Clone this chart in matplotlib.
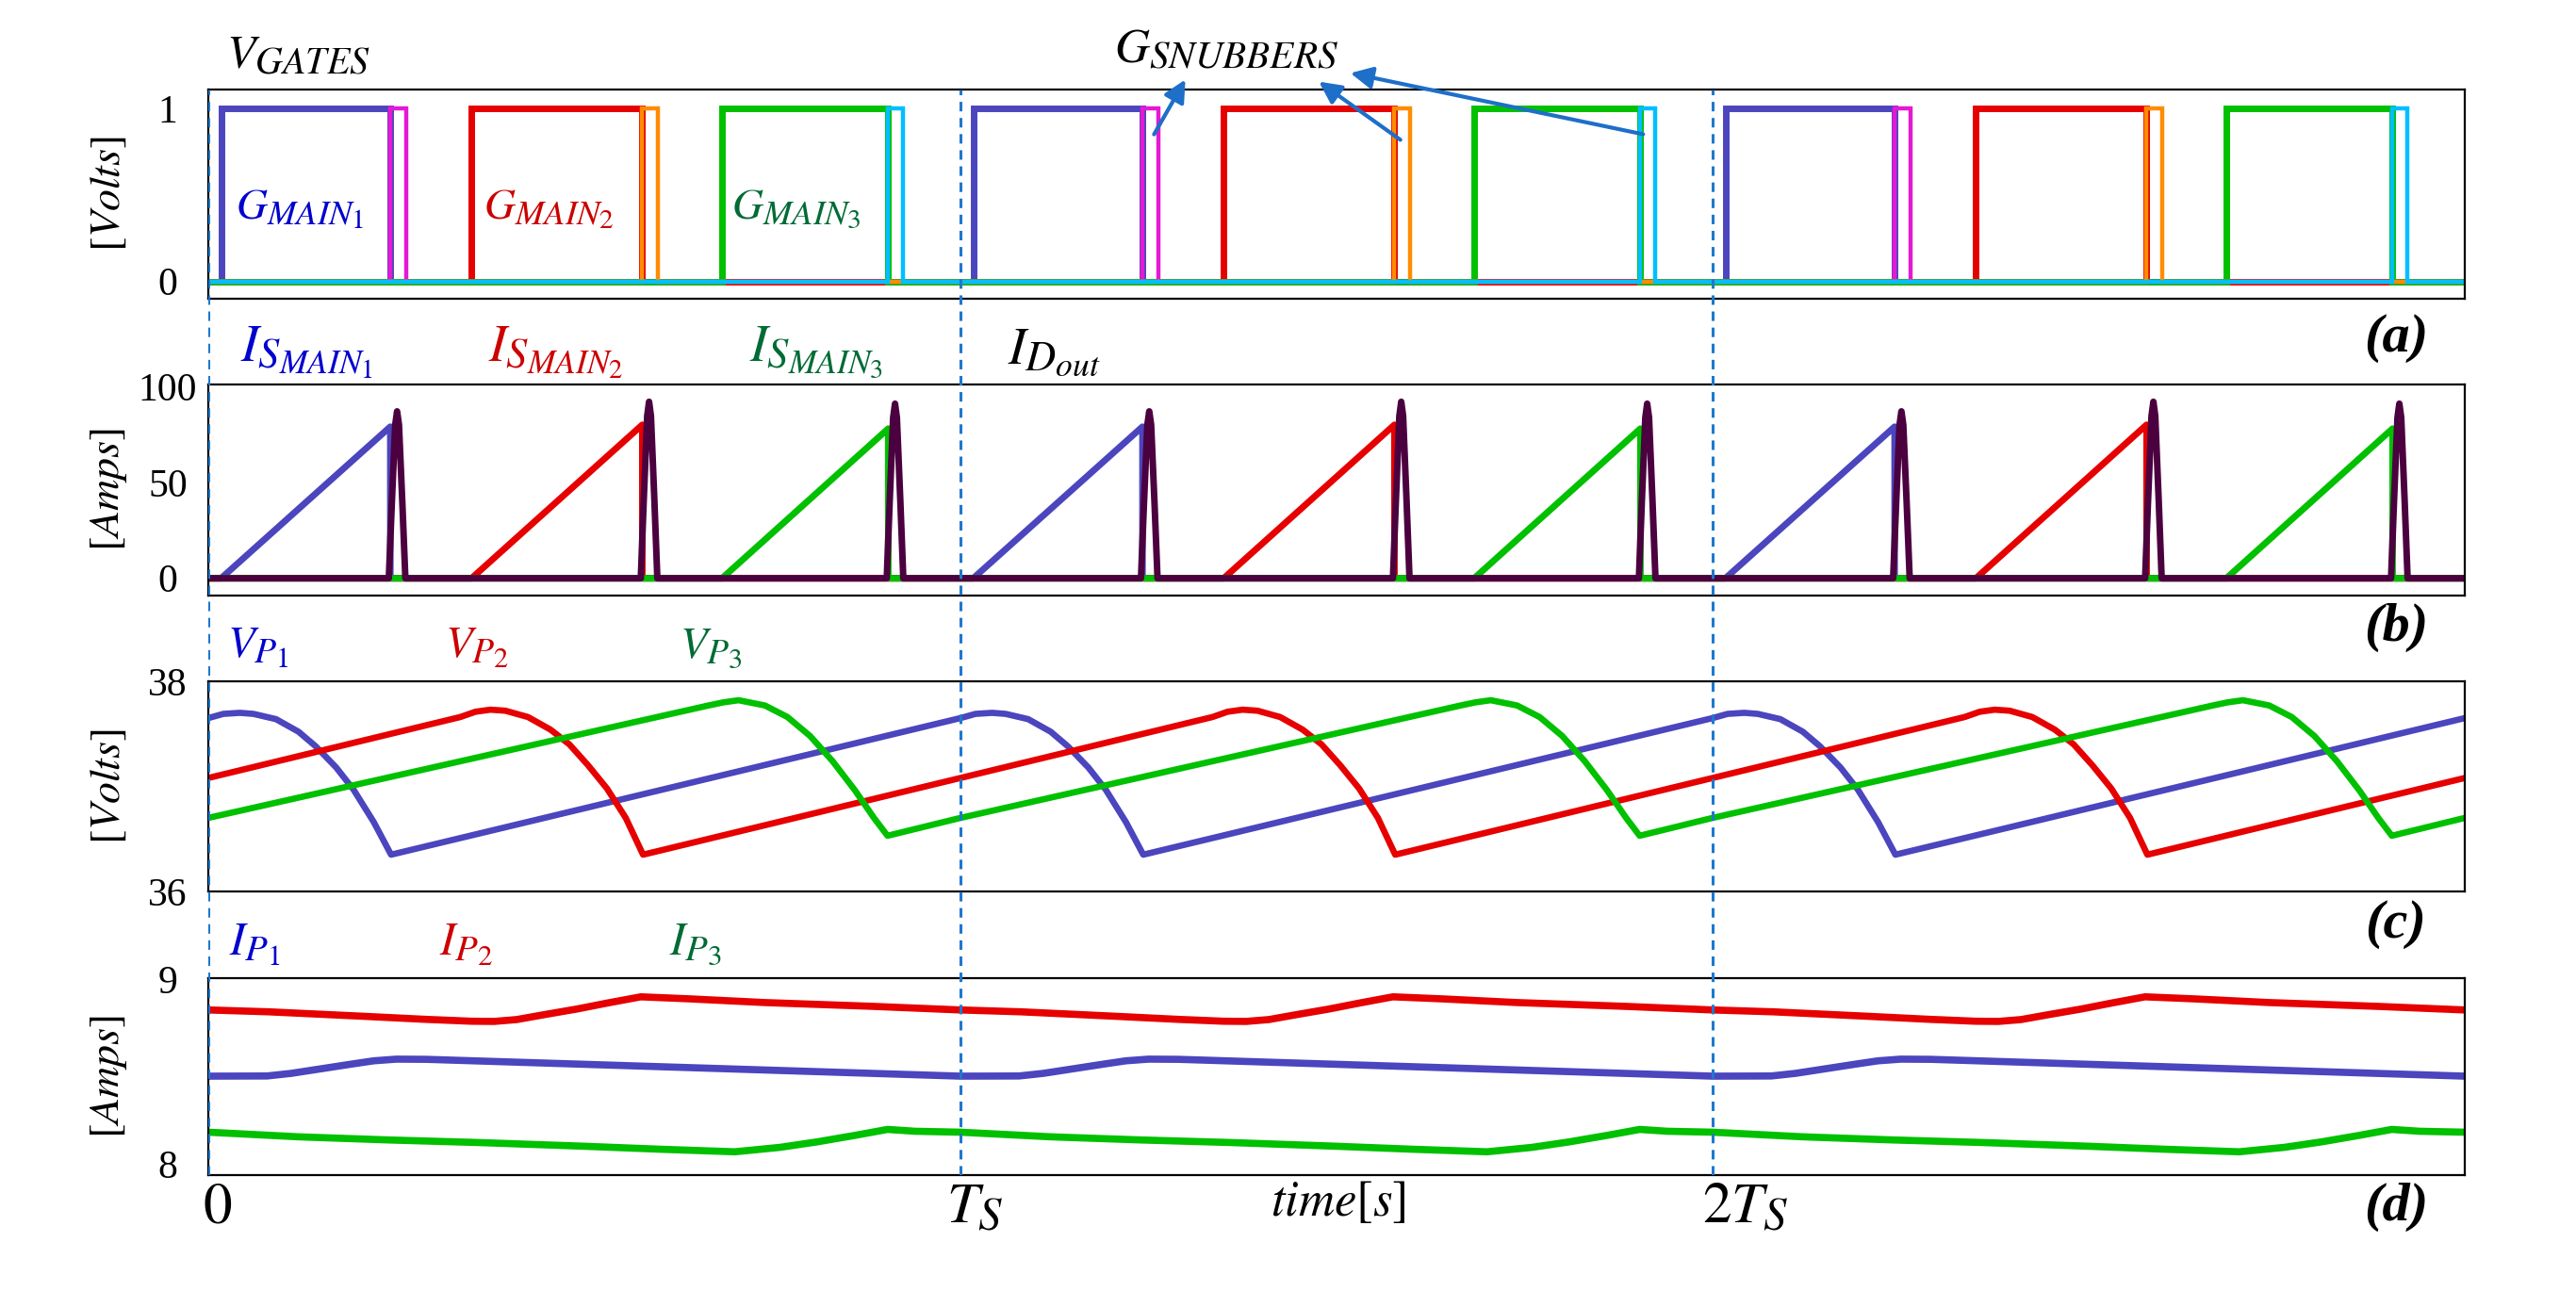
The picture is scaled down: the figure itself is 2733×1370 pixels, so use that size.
import numpy as np
import matplotlib
matplotlib.use("Agg")
import matplotlib.pyplot as plt
import matplotlib._mathtext as mathtext_internal
from matplotlib.transforms import ScaledTranslation

plt.rcParams['mathtext.fontset'] = 'stix'
plt.rcParams['font.family'] = 'Liberation Serif'
# Cambria-like subscripts are bigger than the default 0.7 step
mathtext_internal.SHRINK_FACTOR = 0.8

W, H = 2733, 1370

# ---- data (time in units of Ts) ----
n_periods = 3
main_on = [0.017, 0.350, 0.683]      # G_MAIN rising edges
main_off = [0.242, 0.577, 0.904]     # G_MAIN falling edges = snubber on
snub_off = [0.263, 0.598, 0.924]     # snubber falling edges

is_peak = [79, 80, 78]               # switch current at turn off (A)
id_peak = [87, 92, 91]               # output diode spike (A)
spike_dt = [-0.002, 0.002, 0.0065, 0.009, 0.0115, 0.016, 0.020]
spike_frac = [0, 0.45, 0.92, 1.0, 0.92, 0.45, 0]

# primary voltages, one period each
vp1_t = [0.0, 0.02, 0.042, 0.06, 0.09, 0.12, 0.143, 0.17, 0.193, 0.22, 0.243, 1.0]
vp1_v = [37.65, 37.69, 37.70, 37.69, 37.64, 37.52, 37.38, 37.18, 36.97, 36.66, 36.35, 37.65]
vp2_t = [0.0, 0.335, 0.355, 0.375, 0.395, 0.425, 0.455, 0.48, 0.505, 0.53, 0.555, 0.578, 1.0]
vp2_v = [37.08, 37.66, 37.71, 37.73, 37.72, 37.66, 37.54, 37.40, 37.20, 36.98, 36.70, 36.35, 37.08]
vp3_t = [0.0, 0.665, 0.685, 0.705, 0.74, 0.77, 0.80, 0.83, 0.86, 0.885, 0.903, 1.0]
vp3_v = [36.70, 37.77, 37.80, 37.82, 37.77, 37.66, 37.48, 37.24, 36.96, 36.70, 36.53, 36.70]

# primary currents, one period each
ip1_t = [0.0, 0.078, 0.11, 0.15, 0.19, 0.22, 0.25, 0.29, 1.0]
ip1_v = [8.475, 8.476, 8.49, 8.515, 8.54, 8.558, 8.567, 8.566, 8.475]
ip2_t = [0.0, 0.08, 0.2, 0.29, 0.35, 0.38, 0.41, 0.45, 0.49, 0.53, 0.575, 0.64, 0.74, 0.88, 1.0]
ip2_v = [8.833, 8.823, 8.80, 8.782, 8.772, 8.771, 8.781, 8.810, 8.838, 8.870, 8.904, 8.893, 8.873, 8.853, 8.833]
ip3_t = [0.0, 0.12, 0.24, 0.36, 0.5, 0.6, 0.70, 0.76, 0.81, 0.86, 0.903, 0.94, 1.0]
ip3_v = [8.172, 8.147, 8.13, 8.116, 8.096, 8.08, 8.066, 8.09, 8.12, 8.155, 8.187, 8.177, 8.172]

c_line = ['#4B45BE', '#E60000', '#00C000']
c_snub = ['#E619D2', '#FF8C00', '#00BFFF']
c_text = ['#0000CD', '#CC0000', '#006B35']
c_diode = '#4B003F'
c_dash = '#1E78CC'


def tile(t, v):
    tt = np.concatenate([np.asarray(t) + k for k in range(n_periods)])
    return tt, np.tile(v, n_periods)


def pulses(on, off):
    t, v = [0], [0]
    for k in range(n_periods):
        t += [on + k, on + k, off + k, off + k]
        v += [0, 1, 1, 0]
    return t + [n_periods], v + [0]


def ramps(on, off, peak):
    t, v = [0], [0]
    for k in range(n_periods):
        t += [on + k, off + k, off + k]
        v += [0, peak, 0]
    return t + [n_periods], v + [0]


def fx(px):
    return px / W


def fy(py):
    return 1 - py / H


fig = plt.figure(figsize=(W / 100, H / 100), dpi=100)
left, right = 221, 2615
boxes = [(95, 317), (408, 632), (723, 946), (1038, 1247)]
axes = []
for top, bot in boxes:
    ax = fig.add_axes([fx(left), fy(bot), fx(right - left), (bot - top) / H])
    ax.set_xlim(0, n_periods)
    for s in ax.spines.values():
        s.set_linewidth(1.6)
    ax.tick_params(length=0, labelsize=30, pad=31)
    ax.set_xticks([])
    axes.append(ax)
ax_a, ax_b, ax_c, ax_d = axes

# (a) gate signals
for i in range(3):
    t, v = pulses(main_on[i], main_off[i])
    ax_a.plot(t, v, color=c_line[i], lw=5, solid_joinstyle='miter')
for i in range(3):
    t, v = pulses(main_off[i], snub_off[i])
    ax_a.plot(t, v, color=c_snub[i], lw=3.2, solid_joinstyle='miter')
ax_a.set_ylim(-0.1, 1.11)
ax_a.set_yticks([0, 1])
ax_a.set_ylabel(r'$[Volts]$', fontsize=33)

# (b) switch currents and output diode current
for i in range(3):
    t, v = ramps(main_on[i], main_off[i], is_peak[i])
    ax_b.plot(t, v, color=c_line[i], lw=5)
td, vd = [0], [0]
for k in range(n_periods):
    for i in range(3):
        td += [main_off[i] + k + d for d in spike_dt]
        vd += [id_peak[i] * f for f in spike_frac]
td += [n_periods]
vd += [0]
ax_b.plot(td, vd, color=c_diode, lw=5)
ax_b.set_ylim(-9, 101)
ax_b.set_yticks([0, 50, 100])
ax_b.set_ylabel(r'$[Amps]$', fontsize=33)

# (c) primary voltages
for i, (t, v) in enumerate([(vp1_t, vp1_v), (vp2_t, vp2_v), (vp3_t, vp3_v)]):
    tt, vv = tile(t, v)
    ax_c.plot(tt, vv, color=c_line[i], lw=4.8)
ax_c.set_ylim(36, 38)
ax_c.set_yticks([36, 38])
ax_c.set_ylabel(r'$[Volts]$', fontsize=33)

# (d) primary currents
for t, v, c in [(ip2_t, ip2_v, c_line[1]), (ip1_t, ip1_v, c_line[0]), (ip3_t, ip3_v, c_line[2])]:
    tt, vv = tile(t, v)
    ax_d.plot(tt, vv, color=c, lw=5.5)
ax_d.set_ylim(7.94, 9.005)
ax_d.set_yticks([8, 9])
ax_d.set_ylabel(r'$[Amps]$', fontsize=33)
ax_d.set_xticks([0, 1, 2])
ax_d.set_xticklabels([r'$0$', r'$T_S$', r'$2T_S$'], fontsize=44)
ax_d.tick_params(axis='x', pad=6)
for lab, dx in zip(ax_d.get_xticklabels(), [-0.06, -0.15, -0.11]):
    lab.set_ha('left')
    lab.set_transform(lab.get_transform() + ScaledTranslation(dx, 0, fig.dpi_scale_trans))

for ax in axes:
    ax.yaxis.set_label_coords(-0.035, 0.5)
    for lab in ax.get_yticklabels():
        lab.set_ha('center')

# dashed period markers across all panels
ov = fig.add_axes([fx(left), fy(1247), fx(right - left), (1247 - 95) / H], zorder=10)
ov.set_xlim(0, n_periods)
ov.set_ylim(0, 1)
ov.axis('off')
for k in range(n_periods):
    ov.axvline(k, color=c_dash, lw=2.2, linestyle=(0, (3.3, 2.3)))

# labels
fig.text(fx(316), fy(60), r'$V_{GATES}$', fontsize=36, ha='center', va='center')
fig.text(fx(1301), fy(54), r'$G_{SNUBBERS}$', fontsize=37, ha='center', va='center')
for tail, head in zip([(1223, 145), (1488, 150), (1746, 143)],
                      [(1259, 82), (1397, 85), (1430, 77)]):
    fig.add_artist(matplotlib.patches.FancyArrowPatch(
        (fx(tail[0]), fy(tail[1])), (fx(head[0]), fy(head[1])), transform=fig.transFigure,
        arrowstyle='-|>', mutation_scale=35, color='#1E6FC8', lw=3))

gm = [r'$G_{MAIN_1}$', r'$G_{MAIN_2}$', r'$G_{MAIN_3}$']
ism = [r'$I_{S_{MAIN_1}}$', r'$I_{S_{MAIN_2}}$', r'$I_{S_{MAIN_3}}$']
vpl = [r'$V_{P_1}$', r'$V_{P_2}$', r'$V_{P_3}$']
ipl = [r'$I_{P_1}$', r'$I_{P_2}$', r'$I_{P_3}$']
for i, x in enumerate([318, 582, 845]):
    fig.text(fx(x), fy(222), gm[i], color=c_text[i], fontsize=33, ha='center', va='center')
for i, x in enumerate([326, 590, 866]):
    fig.text(fx(x), fy(374), ism[i], color=c_text[i], fontsize=40, ha='center', va='center')
fig.text(fx(1119), fy(374), r'$I_{D_{out}}$', fontsize=40, ha='center', va='center')
for i, x in enumerate([274, 506, 754]):
    fig.text(fx(x), fy(688), vpl[i], color=c_text[i], fontsize=34, ha='center', va='center')
for i, x in enumerate([270, 495, 738]):
    fig.text(fx(x), fy(1003), ipl[i], color=c_text[i], fontsize=35, ha='center', va='center')

fig.text(fx(1420), fy(1276), r'$time[s]$', fontsize=38, ha='center', va='center')
for lab, y in zip(['(a)', '(b)', '(c)', '(d)'], [359, 666, 981, 1281]):
    fig.text(fx(2542), fy(y), lab, fontsize=42, fontweight='bold', style='italic',
             ha='center', va='center')

fig.savefig('out.png', dpi=100)
